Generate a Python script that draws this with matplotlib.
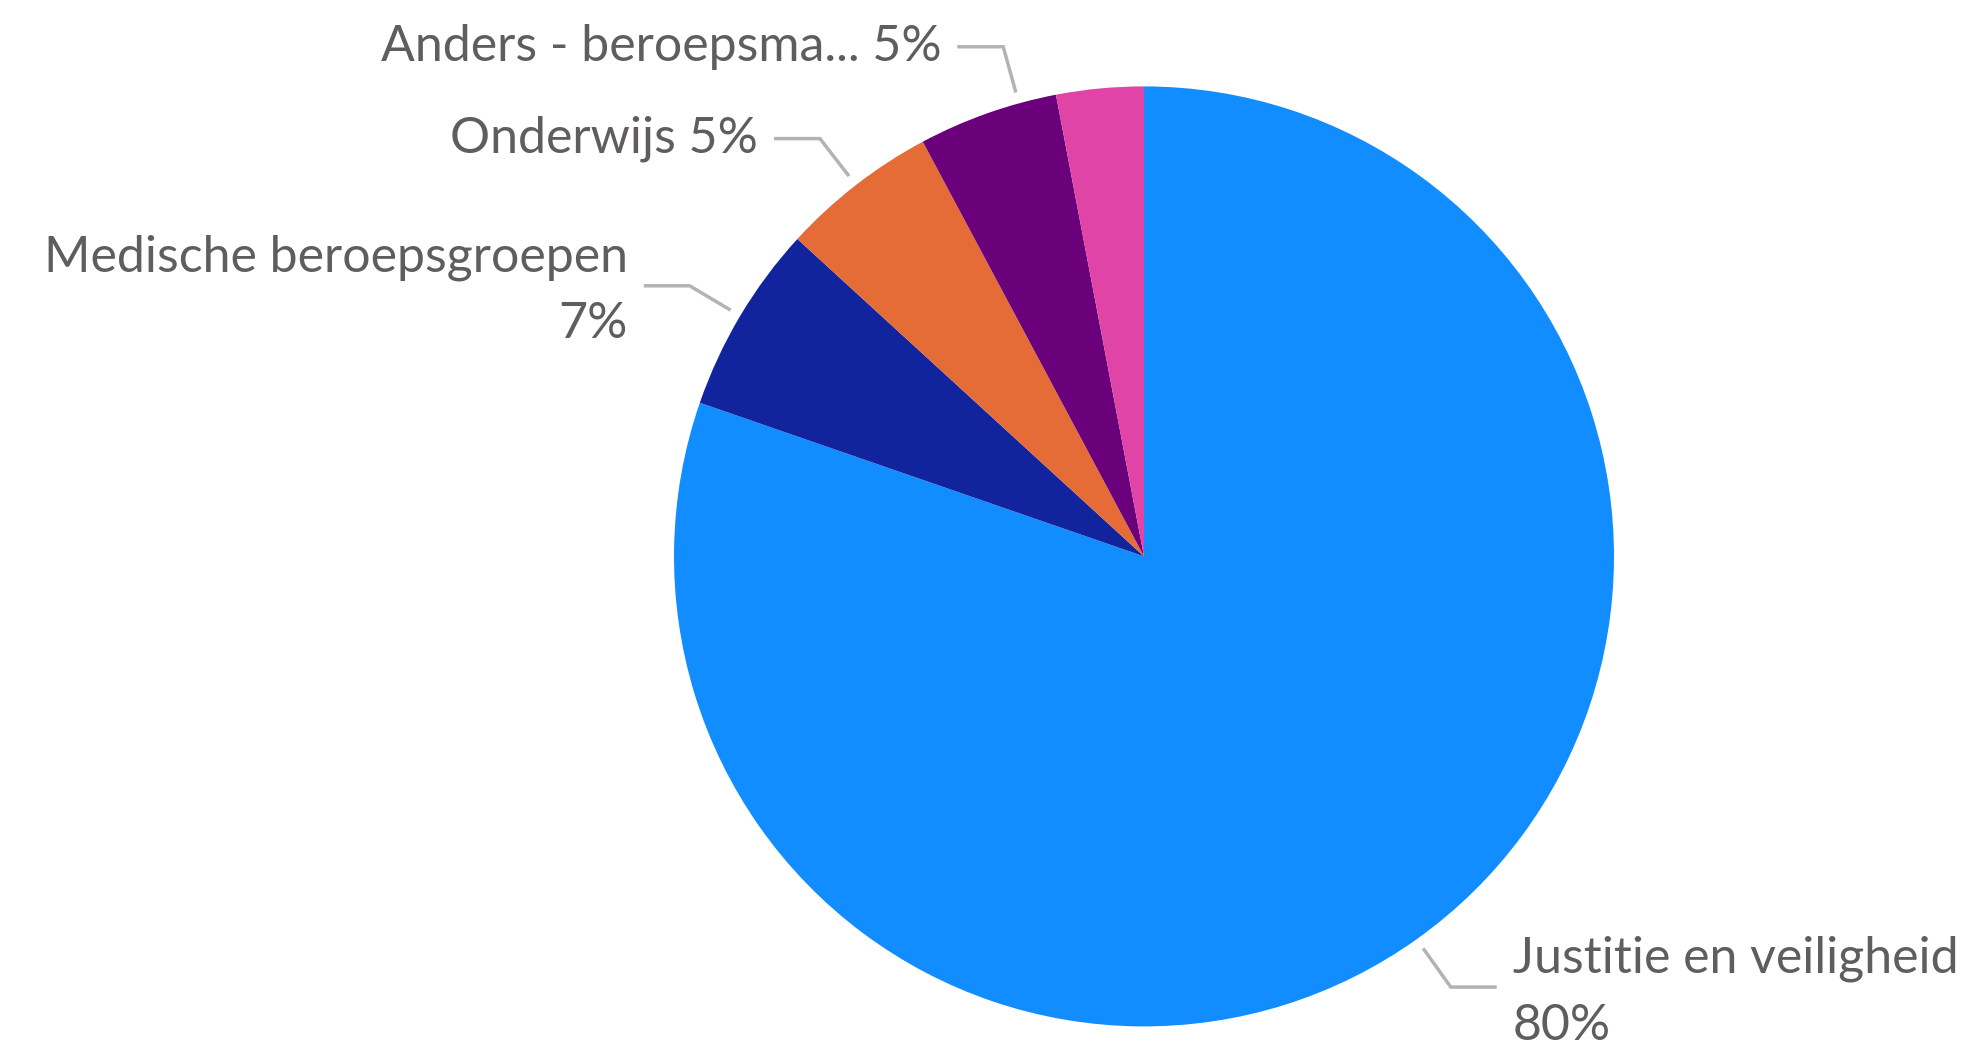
import matplotlib
matplotlib.use("Agg")
import matplotlib.pyplot as plt
import numpy as np

# ---- data ----
categories = ["Justitie en veiligheid", "Medische beroepsgroepen", "Onderwijs",
              "Anders - beroepsma...", "Overig"]
values = [80.3, 6.5, 5.4, 4.8, 3.0]
pct_labels = ["80%", "7%", "5%", "5%", "3%"]
show_label = [True, True, True, True, False]
label_wrap = [True, True, False, False, False]
colors = ["#118DFF", "#12239E", "#E66C37", "#6B007B", "#E044A7"]
angle_adjust = [0, 0, 0, -4, 0]

W, H = 1967, 1051
fig = plt.figure(figsize=(W / 100, H / 100), dpi=100)
ax = fig.add_axes([0, 0, 1, 1])

cx, cy, R = 1144, H - 556.4, 470
wedges, _ = ax.pie(values, colors=colors, startangle=90, counterclock=False,
                   center=(cx, cy), radius=R, frame=True,
                   wedgeprops=dict(linewidth=0))
ax.set_xlim(0, W)
ax.set_ylim(0, H)
ax.set_aspect("equal")
ax.axis("off")

text_color = "#605E5C"
line_color = "#B3B3B3"
for w, cat, pct, show, wrap, adj in zip(wedges, categories, pct_labels,
                                         show_label, label_wrap, angle_adjust):
    if not show:
        continue
    mid = np.deg2rad((w.theta1 + w.theta2) / 2 + adj)
    c, s = np.cos(mid), np.sin(mid)
    side = 1 if c > 0 else -1
    p0 = (cx + 1.024 * R * c, cy + 1.024 * R * s)
    p1 = (cx + 1.125 * R * c, cy + 1.125 * R * s)
    p2 = (p1[0] + side * 46, p1[1])
    ax.plot([p0[0], p1[0], p2[0]], [p0[1], p1[1], p2[1]], color=line_color,
            lw=2.5, solid_capstyle="butt", solid_joinstyle="miter")
    txt = cat + ("\n" if wrap else " ") + pct
    ha = "left" if side > 0 else "right"
    dy = -5 if wrap else 0
    ax.text(p2[0] + side * 16, p2[1] + dy, txt, ha=ha, va="center",
            multialignment=ha, fontsize=36, color=text_color,
            family=["Lato", "DejaVu Sans"], linespacing=1.55)

fig.savefig("out.png", dpi=100, facecolor="white")
